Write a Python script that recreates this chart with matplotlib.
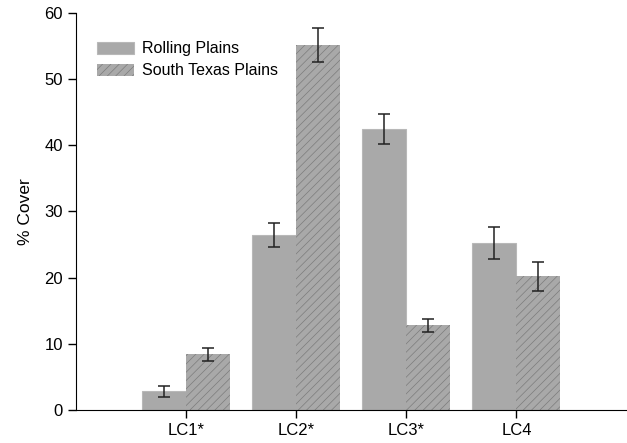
import matplotlib
matplotlib.use("Agg")
import matplotlib.pyplot as plt
import matplotlib.patches as mpatches
import numpy as np

plt.rcParams['font.family'] = ['Liberation Sans', 'DejaVu Sans']
plt.rcParams['hatch.color'] = '#7c7c7c'
plt.rcParams['hatch.linewidth'] = 0.5

categories = ['LC1*', 'LC2*', 'LC3*', 'LC4']
rolling = [2.8, 26.4, 42.5, 25.2]
rolling_err = [0.8, 1.8, 2.3, 2.4]
south = [8.4, 55.2, 12.8, 20.2]
south_err = [0.95, 2.6, 1.0, 2.2]

fill = '#a9a9a9'
x = np.arange(1, len(categories) + 1)
w = 0.4

fig = plt.figure(figsize=(6.27, 4.43), dpi=100)
ax = fig.add_axes([0.1212, 0.0745, 0.878, 0.8962])

ax.bar(x - w/2, rolling, w, color=fill, edgecolor='#b8b8b8', linewidth=0.8)
ax.bar(x + w/2, south, w, color=fill, hatch='////', linewidth=0)
ax.errorbar(x - w/2, rolling, yerr=rolling_err, fmt='none', ecolor='#222222',
            elinewidth=1.1, capsize=4.5, capthick=1.1)
ax.errorbar(x + w/2, south, yerr=south_err, fmt='none', ecolor='#222222',
            elinewidth=1.1, capsize=4.5, capthick=1.1)

ax.set_xlim(0, 5)
ax.set_ylim(0, 60)
ax.set_xticks(x)
ax.set_xticklabels(categories)
ax.set_yticks(range(0, 61, 10))
ax.tick_params(axis='both', labelsize=12, length=6, width=1, direction='out')
ax.spines['top'].set_visible(False)
ax.spines['right'].set_visible(False)
ax.set_ylabel('% Cover', fontsize=12.5, labelpad=8)

rp = mpatches.Patch(facecolor=fill, edgecolor='#b8b8b8', linewidth=0.8, label='Rolling Plains')
stp = mpatches.Patch(facecolor=fill, hatch='////', linewidth=0, label='South Texas Plains')
ax.legend(handles=[rp, stp], loc='upper left', bbox_to_anchor=(0.012, 0.965),
          frameon=False, fontsize=11.5, handlelength=2.3, handleheight=0.8,
          labelspacing=0.45, handletextpad=0.55)

fig.savefig('out.png', dpi=100)
